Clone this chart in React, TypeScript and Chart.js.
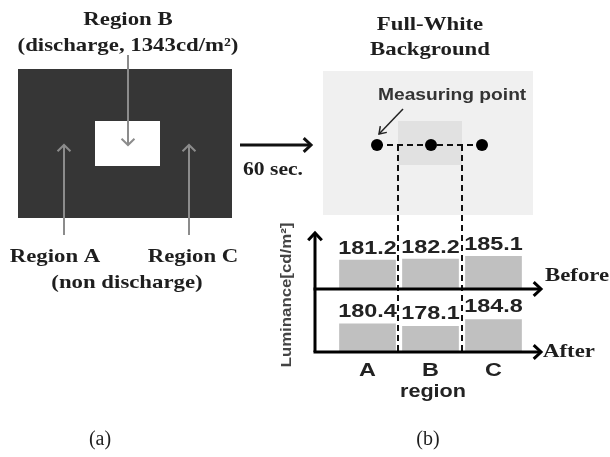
import React, { useEffect, useRef } from 'react';
import { Chart, registerables } from 'chart.js';

Chart.register(...registerables);

// ---- data ----
const regions = ['A', 'B', 'C'];
const beforeLum = [181.2, 182.2, 185.1];
const afterLum = [180.4, 178.1, 184.8];
const rowNames = ['Before', 'After'];

const SERIF = "'Liberation Serif','Times New Roman',serif";
const SANS = "'Liberation Sans',Arial,sans-serif";
const INK = '#1e1e1e';

function text(ctx: CanvasRenderingContext2D, s: string, x: number, y: number, font: string, color: string, sx = 1, align: CanvasTextAlign = 'center') {
  ctx.save();
  ctx.font = font;
  ctx.fillStyle = color;
  ctx.textBaseline = 'middle';
  ctx.textAlign = align;
  ctx.translate(x, y);
  ctx.scale(sx, 1);
  ctx.fillText(s, 0, 0);
  ctx.restore();
}

function head(ctx: CanvasRenderingContext2D, x: number, y: number, ang: number, len: number, spread: number) {
  ctx.beginPath();
  ctx.moveTo(x - len * Math.cos(ang - spread), y - len * Math.sin(ang - spread));
  ctx.lineTo(x, y);
  ctx.lineTo(x - len * Math.cos(ang + spread), y - len * Math.sin(ang + spread));
  ctx.stroke();
}

function arrow(ctx: CanvasRenderingContext2D, x1: number, y1: number, x2: number, y2: number, lw: number, color: string, len = 10, spread = 0.75) {
  ctx.save();
  ctx.strokeStyle = color;
  ctx.lineWidth = lw;
  ctx.lineJoin = 'miter';
  ctx.beginPath();
  ctx.moveTo(x1, y1);
  ctx.lineTo(x2, y2);
  ctx.stroke();
  head(ctx, x2, y2, Math.atan2(y2 - y1, x2 - x1), len, spread);
  ctx.restore();
}

function dashed(ctx: CanvasRenderingContext2D, x1: number, y1: number, x2: number, y2: number) {
  ctx.save();
  ctx.strokeStyle = '#111';
  ctx.lineWidth = 2;
  ctx.setLineDash([6, 4]);
  ctx.beginPath();
  ctx.moveTo(x1, y1);
  ctx.lineTo(x2, y2);
  ctx.stroke();
  ctx.restore();
}

const diagramPlugin = {
  id: 'diagram',
  beforeDraw(chart: any) {
    const ctx: CanvasRenderingContext2D = chart.ctx;
    ctx.save();
    ctx.fillStyle = '#ffffff';
    ctx.fillRect(0, 0, chart.width, chart.height);
    // (a) panel
    ctx.fillStyle = '#363636';
    ctx.fillRect(18, 69, 214, 149);
    ctx.fillStyle = '#ffffff';
    ctx.fillRect(95, 121, 65, 45);
    // (b) full-white background
    ctx.fillStyle = '#f0f0f0';
    ctx.fillRect(323, 71, 210, 144);
    ctx.fillStyle = '#e1e1e1';
    ctx.fillRect(398, 121, 64, 44);
    ctx.restore();
  },
  afterDatasetsDraw(chart: any) {
    const ctx: CanvasRenderingContext2D = chart.ctx;
    const xs = chart.scales.x;
    const metaB = chart.getDatasetMeta(0);
    const metaA = chart.getDatasetMeta(1);
    const area = chart.chartArea;
    const yBefore = chart.scales.yBefore.bottom;
    const yAfter = chart.scales.yAfter.bottom;

    // ---- panel (a) ----
    text(ctx, 'Region B', 128, 20, `bold 19px ${SERIF}`, INK, 1.2);
    text(ctx, '(discharge, 1343cd/m²)', 128, 46, `bold 19px ${SERIF}`, INK, 1.2);
    arrow(ctx, 128, 55, 128, 145, 2, '#8c8c8c', 9, 0.8);
    arrow(ctx, 64, 235, 64, 145, 2, '#8c8c8c', 9, 0.8);
    arrow(ctx, 189, 235, 189, 145, 2, '#8c8c8c', 9, 0.8);
    text(ctx, 'Region A', 55, 257, `bold 19px ${SERIF}`, INK, 1.2);
    text(ctx, 'Region C', 193, 257, `bold 19px ${SERIF}`, INK, 1.2);
    text(ctx, '(non discharge)', 127, 283, `bold 19px ${SERIF}`, INK, 1.2);
    text(ctx, '(a)', 100, 440, `20px ${SERIF}`, INK, 1);

    // ---- transition arrow ----
    arrow(ctx, 240, 145, 311, 145, 3, '#111', 10, 0.75);
    text(ctx, '60 sec.', 243, 170, `bold 18px ${SERIF}`, INK, 1.2, 'left');

    // ---- panel (b) top ----
    text(ctx, 'Full-White', 430, 25, `bold 19px ${SERIF}`, INK, 1.2);
    text(ctx, 'Background', 430, 50, `bold 19px ${SERIF}`, INK, 1.2);
    text(ctx, 'Measuring point', 378, 96, `bold 16px ${SANS}`, '#333', 1.2, 'left');
    arrow(ctx, 403, 109, 379, 134, 1.5, '#222', 8, 0.6);

    const pts = [377, 431, 482];
    dashed(ctx, pts[0], 145, pts[2], 145);
    dashed(ctx, 398, 145, 398, yAfter);
    dashed(ctx, 462, 145, 462, yAfter);
    ctx.save();
    ctx.fillStyle = '#000';
    for (const px of pts) {
      ctx.beginPath();
      ctx.arc(px, 145, 6, 0, Math.PI * 2);
      ctx.fill();
    }
    ctx.restore();

    // ---- axes ----
    const ax = 315;
    ctx.save();
    ctx.strokeStyle = '#000';
    ctx.lineWidth = 3;
    ctx.beginPath();
    ctx.moveTo(ax, yAfter);
    ctx.lineTo(ax, area.top);
    ctx.stroke();
    head(ctx, ax, area.top, -Math.PI / 2, 10, 0.75);
    ctx.restore();
    arrow(ctx, ax - 1.5, yBefore, 541, yBefore, 3, '#000', 10, 0.75);
    arrow(ctx, ax - 1.5, yAfter, 541, yAfter, 3, '#000', 10, 0.75);
    text(ctx, rowNames[0], 545, 276, `bold 19px ${SERIF}`, INK, 1.2, 'left');
    text(ctx, rowNames[1], 543, 352, `bold 19px ${SERIF}`, INK, 1.2, 'left');

    // y-axis title
    ctx.save();
    ctx.translate(287, 295);
    ctx.rotate(-Math.PI / 2);
    ctx.font = `bold 15px ${SANS}`;
    ctx.fillStyle = '#444';
    ctx.textAlign = 'center';
    ctx.textBaseline = 'middle';
    ctx.scale(1.12, 1);
    ctx.fillText('Luminance[cd/m²]', 0, 0);
    ctx.restore();

    // value labels
    metaB.data.forEach((bar: any, i: number) => {
      text(ctx, beforeLum[i].toFixed(1), bar.x, bar.y - 11, `bold 18px ${SANS}`, '#222', 1.3);
    });
    metaA.data.forEach((bar: any, i: number) => {
      text(ctx, afterLum[i].toFixed(1), bar.x, bar.y - 12, `bold 18px ${SANS}`, '#222', 1.3);
    });

    // category labels
    regions.forEach((r, i) => {
      text(ctx, r, xs.getPixelForValue(i), 371, `bold 18px ${SANS}`, '#222', 1.3);
    });
    text(ctx, 'region', 433, 392, `bold 18px ${SANS}`, '#222', 1.2);
    text(ctx, '(b)', 428, 440, `20px ${SERIF}`, INK, 1);
  },
};

export default function App() {
  const ref = useRef<HTMLCanvasElement | null>(null);
  useEffect(() => {
    if (!ref.current) return;
    const chart = new Chart(ref.current, {
      type: 'bar',
      data: {
        labels: regions,
        datasets: [
          { label: rowNames[0], data: beforeLum, yAxisID: 'yBefore', backgroundColor: '#c0c0c0', grouped: false, barPercentage: 0.9, categoryPercentage: 1 } as any,
          { label: rowNames[1], data: afterLum, yAxisID: 'yAfter', backgroundColor: '#c0c0c0', grouped: false, barPercentage: 0.9, categoryPercentage: 1 } as any,
        ],
      },
      options: {
        animation: false,
        responsive: true,
        maintainAspectRatio: false,
        devicePixelRatio: 1,
        layout: { padding: { left: 336, right: 85, top: 233, bottom: 105 } },
        plugins: { legend: { display: false }, tooltip: { enabled: false } },
        scales: {
          x: { display: false },
          yBefore: { type: 'linear', position: 'left', display: false, min: 152, max: 208, stack: 'rows', stackWeight: 56, weight: 2 } as any,
          yAfter: { type: 'linear', position: 'left', display: false, min: 152, max: 215, stack: 'rows', stackWeight: 63, weight: 1 } as any,
        },
      },
      plugins: [diagramPlugin],
    });
    return () => chart.destroy();
  }, []);
  return (
    <div style={{ position: 'absolute', left: 0, top: 0, width: 610, height: 457, background: '#fff' }}>
      <canvas ref={ref} />
    </div>
  );
}
